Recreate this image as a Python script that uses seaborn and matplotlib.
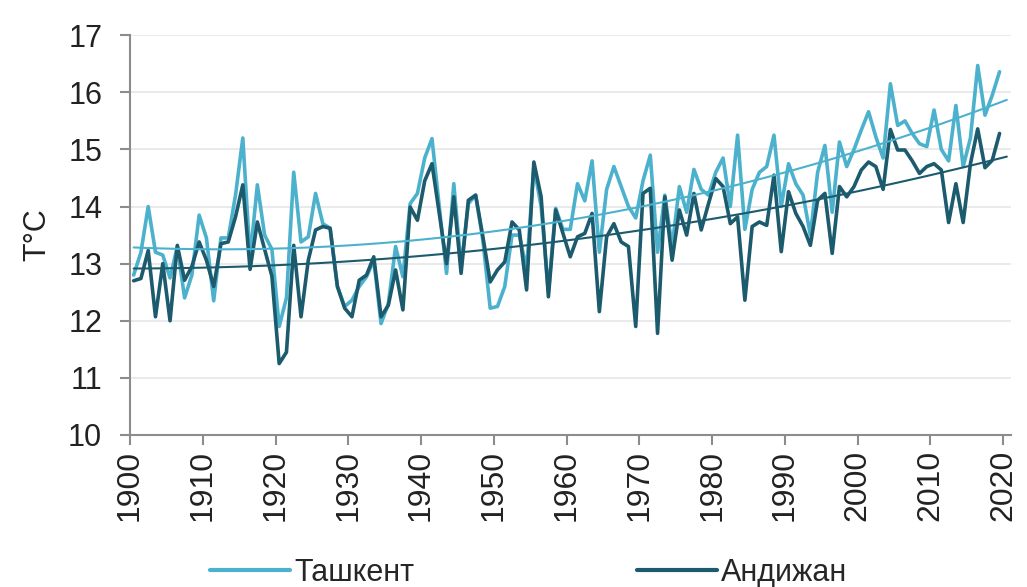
import numpy as np
import pandas as pd
import matplotlib
matplotlib.use("Agg")
import matplotlib.pyplot as plt
import seaborn as sns
from matplotlib.lines import Line2D

years = list(range(1900, 2020))
tashkent = [
    12.8, 13.2, 14.0, 13.2, 13.15, 12.75, 13.3, 12.4, 12.8, 13.85,
    13.45, 12.35, 13.45, 13.45, 14.2, 15.2, 13.1, 14.38, 13.5, 13.25,
    11.9, 12.4, 14.6, 13.38, 13.47, 14.23, 13.7, 13.62, 12.6, 12.25,
    12.36, 12.6, 12.77, 13.06, 11.95, 12.3, 13.3, 12.77, 14.05, 14.23,
    14.85, 15.19, 14.0, 12.83, 14.4, 12.95, 14.05, 14.2, 13.4, 12.22,
    12.25, 12.6, 13.5, 13.5, 12.9, 14.7, 14.0, 12.5, 13.97, 13.6,
    13.6, 14.4, 14.1, 14.8, 13.2, 14.3, 14.7, 14.35, 14.0, 13.8,
    14.45, 14.9, 13.2, 14.2, 13.3, 14.35, 13.9, 14.65, 14.3, 14.2,
    14.6, 14.85, 14.0, 15.25, 13.6, 14.3, 14.6, 14.7, 15.25, 14.0,
    14.75, 14.4, 14.2, 13.5, 14.6, 15.07, 13.9, 15.13, 14.7, 15.0,
    15.34, 15.66, 15.22, 14.85, 16.15, 15.42, 15.5, 15.28, 15.1, 15.05,
    15.69, 15.0, 14.8, 15.77, 14.7, 15.2, 16.47, 15.6, 15.95, 16.36,
]
andijan = [
    12.7, 12.74, 13.23, 12.07, 13.0, 12.0, 13.32, 12.71, 12.95, 13.38,
    13.06, 12.6, 13.35, 13.38, 13.82, 14.38, 12.9, 13.73, 13.25, 12.78,
    11.25, 11.45, 13.32, 12.07, 13.06, 13.59, 13.65, 13.62, 12.6, 12.22,
    12.07, 12.71, 12.8, 13.12, 12.07, 12.27, 12.89, 12.19, 13.99, 13.76,
    14.45, 14.75, 13.88, 13.0, 14.17, 12.83, 14.11, 14.2, 13.47, 12.68,
    12.89, 13.03, 13.73, 13.59, 12.54, 14.78, 14.17, 12.42, 13.94, 13.53,
    13.12, 13.47, 13.53, 13.88, 12.16, 13.47, 13.7, 13.38, 13.3, 11.9,
    14.23, 14.32, 11.78, 14.17, 13.06, 13.94, 13.5, 14.23, 13.59, 14.05,
    14.49, 14.35, 13.7, 13.82, 12.36, 13.65, 13.73, 13.67, 14.55, 13.21,
    14.26, 13.88, 13.65, 13.32, 14.11, 14.23, 13.18, 14.35, 14.17, 14.35,
    14.64, 14.78, 14.7, 14.3, 15.35, 14.99, 14.99, 14.8, 14.58, 14.7,
    14.75, 14.64, 13.72, 14.4, 13.72, 14.75, 15.36, 14.68, 14.81, 15.28,
]
series_names = ["Ташкент", "Андижан"]
colors = ["#4cb1cd", "#1c5b6d"]
tick_years = list(range(1900, 2021, 10))
y_ticks = list(range(10, 18))
trend_years = list(range(1900, 2021))

df = pd.DataFrame({
    "year": years * 2,
    "temp": tashkent + andijan,
    "city": [series_names[0]] * len(years) + [series_names[1]] * len(years),
})

# polynomial (order 2) trend lines, as in the source spreadsheet
trend_rows = []
for name, vals in zip(series_names, [tashkent, andijan]):
    coef = np.polyfit(years, vals, 2)
    fitted = np.polyval(coef, trend_years)
    for yr, v in zip(trend_years, fitted):
        trend_rows.append({"year": yr, "temp": v, "city": name})
tdf = pd.DataFrame(trend_rows)

sns.set_theme(style="white")
plt.rcParams["font.family"] = ["Liberation Sans", "DejaVu Sans"]

fig = plt.figure(figsize=(10.27, 5.87), dpi=100)
ax = fig.add_axes([0.1266, 0.259, 0.858, 0.681])

palette = dict(zip(series_names, colors))
sns.lineplot(data=df, x="year", y="temp", hue="city", palette=palette,
             linewidth=2.6, ax=ax, legend=False)
sns.lineplot(data=tdf, x="year", y="temp", hue="city", palette=palette,
             linewidth=1.5, ax=ax, legend=False)

ax.set_xlim(1899.5, 2020.6)
ax.set_ylim(10, 17)
ax.set_yticks(y_ticks)
ax.set_yticklabels([str(v) for v in y_ticks])
ax.set_xticks([t - 0.5 for t in tick_years])
ax.set_xticklabels([str(t) for t in tick_years], rotation=90)
ax.set_xlabel("")
ax.set_ylabel("T\u00b0C", fontsize=22, color="#222222", labelpad=11)

ax.yaxis.grid(True, color="#e6e6e6", linewidth=1.2)
ax.xaxis.grid(False)
ax.set_axisbelow(True)
for s in ["top", "right"]:
    ax.spines[s].set_visible(False)
for s in ["left", "bottom"]:
    ax.spines[s].set_color("#8c8c8c")
    ax.spines[s].set_linewidth(1.5)
ax.tick_params(axis="both", which="major", direction="out", length=7,
               width=1.5, color="#8c8c8c", labelsize=22, labelcolor="#222222",
               bottom=True, left=True)
ax.tick_params(axis="y", pad=13)
ax.tick_params(axis="x", labelsize=23)

handles = [Line2D([0], [0], color=c, linewidth=3) for c in colors]
fig.legend(handles, series_names, loc="lower center", ncol=2,
           bbox_to_anchor=(0.515, -0.048), frameon=False, fontsize=22,
           handlelength=2.6, handletextpad=0.15, columnspacing=7.3)

fig.savefig("out.png", dpi=100)
